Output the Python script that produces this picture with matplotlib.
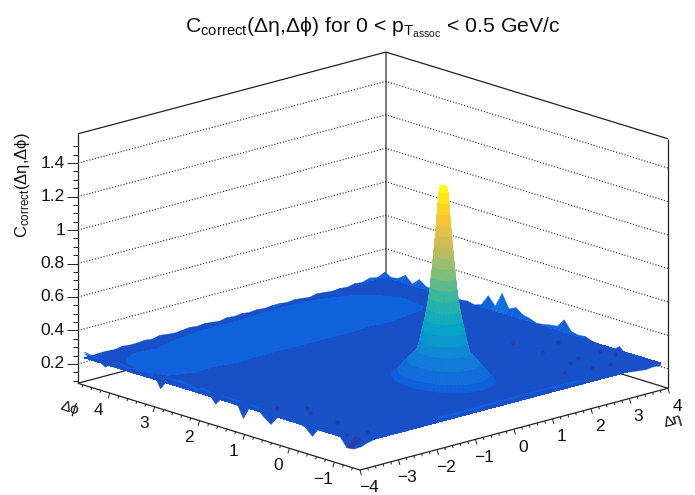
import numpy as np
import matplotlib
matplotlib.use('Agg')
import matplotlib.pyplot as plt
from matplotlib.colors import LinearSegmentedColormap, BoundaryNorm
from mpl_toolkits.mplot3d import proj3d

plt.rcParams['font.family'] = ['Liberation Sans', 'DejaVu Sans']
plt.rcParams['mathtext.fontset'] = 'custom'
plt.rcParams['mathtext.rm'] = 'Liberation Sans'
plt.rcParams['mathtext.default'] = 'regular'

# axis ranges
ETA_MIN, ETA_MAX = -4.0, 4.0
PHI_MIN, PHI_MAX = -1.57, 4.71
Z_MIN, Z_MAX = 0.0845, 1.575

# surface extent (a bit inside the box)
SURF_ETA = (-3.9, 3.9)
SURF_PHI = (-1.5, 4.65)
PLATEAU_Z = 0.235
EDGE_COLOR_SHIFT = 0.02

# palette stops and colour contours
bird_stops = [(0.2082, 0.1664, 0.5293), (0.0592, 0.3599, 0.8684), (0.0780, 0.5041, 0.8385),
              (0.0232, 0.6419, 0.7914), (0.1802, 0.7178, 0.6425), (0.5301, 0.7492, 0.4662),
              (0.8186, 0.7328, 0.3499), (0.9956, 0.7862, 0.1968), (0.9764, 0.9832, 0.0539)]
levels = np.arange(0.0395, 1.45, 0.0635)

# flat part of the surface, rows are phi, columns are eta
plateau_eta = [-3.9, -3.5, -3, -2.5, -2, -1.5, -1, -0.5, 0, 0.5, 1, 1.5, 2, 2.5, 3, 3.5, 3.9]
plateau_phi = [-1.5, -1, -0.5, 0, 0.5, 1, 1.5, 2, 2.6, 3.14, 3.67, 4.19, 4.65]
plateau_z = [
    [.215] * 17,
    [.215] * 17,
    [.215] * 17,
    [.215] * 17,
    [.215] * 17,
    [.215] * 17,
    [.215] * 17,
    [.215, .215, .216, .216, .218, .218, .216, .218, .218, .218, .216, .218, .216, .216, .216, .215, .215],
    [.215, .215, .218, .220, .222, .220, .222, .224, .222, .224, .222, .220, .222, .220, .218, .215, .215],
    [.220, .231, .236, .234, .236, .236, .235, .234, .236, .234, .236, .235, .236, .234, .233, .222, .215],
    [.222, .236, .245, .245, .246, .246, .248, .247, .248, .248, .247, .248, .246, .244, .238, .222, .215],
    [.220, .228, .234, .232, .236, .240, .242, .242, .242, .244, .244, .244, .242, .236, .228, .220, .215],
    [.215, .215, .218, .218, .220, .222, .224, .224, .224, .226, .226, .226, .224, .220, .218, .215, .215],
]

# height along each edge of the surface
front_left_z = [.21, .185, .18, .235, .24, .25, .245, .185, .225, .24, .24, .245, .235, .18, .21, .25, .26,
                .165, .25, .26, .26, .2, .25, .275, .245, .27, .278, .27, .265, .19, .27, .276, .275, .26,
                .25, .27, .25, .218, .25, .26, .27]
front_right_z = [.21, .225, .235, .24, .245, .24, .245, .25, .245, .25, .245, .25, .255, .25, .255, .25, .255,
                 .26, .255, .26, .255, .26, .265, .26, .26, .265, .255, .26, .25, .255, .245, .25, .24, .245,
                 .235, .24, .23, .225, .22, .225, .22]
back_left_z = [.26, .235, .24, .24, .235, .245, .24, .24, .245, .24, .25, .245, .24, .245, .25, .245, .25, .245,
               .24, .25, .245, .25, .245, .25, .245, .25, .25, .245, .25, .245, .24, .25, .245, .24, .245, .24,
               .25, .245, .26, .25, .27]
back_right_z = [.227, .235, .205, .22, .21, .22, .258, .225, .2, .235, .24, .255, .25, .26, .316, .265, .26,
                .25, .245, .26, .27, .30, .28, .36, .27, .32, .255, .24, .25, .245, .25, .26, .25, .255, .26,
                .29, .25, .29, .26, .25, .27]

# near side peak: height and radius of each colour step
peak_z = [1.405, 1.405, 1.373, 1.3095, 1.246, 1.1825, 1.119, 1.0555, .992, .9285, .865, .8015, .738, .6745,
          .611, .5475, .484, .42, .357, .2935, .262, .262]
peak_r = [0.0, .05, .075, .09, .105, .12, .135, .15, .17, .185, .205, .225, .25, .28, .315, .36, .40, .45,
          .62, .78, .86, .88]

# small low spots
speck_eta = [3.41, 2.74, 2.74, 2.63, 2.97, 2.71, 3.14, 2.15, 3.59, 3.67, -3.48, -3.06, -3.25, -3.29, -3.32, -3.73]
speck_phi = [.38, .8, .16, -.56, -.45, -.98, -1.01, -.84, -.4, -.67, .72, .41, .18, -.44, -1.14, -1.05]

z_major = [0.2, 0.4, 0.6, 0.8, 1, 1.2, 1.4]
z_labels = ['0.2', '0.4', '0.6', '0.8', '1', '1.2', '1.4']
phi_major = [-1, 0, 1, 2, 3, 4]
eta_major = [-4, -3, -2, -1, 0, 1, 2, 3, 4]

cmap = LinearSegmentedColormap.from_list('bird', bird_stops, N=256)
norm = BoundaryNorm(levels, 256, clip=True)

fig = plt.figure(figsize=(6.95, 4.95), dpi=100)
ax = fig.add_axes([0, 0, 1, 1], projection='3d', proj_type='ortho', computed_zorder=False)
ax.view_init(elev=16.6, azim=-132.9)
ax.set_xlim(ETA_MIN, ETA_MAX, view_margin=0)
ax.set_ylim(PHI_MIN, PHI_MAX, view_margin=0)
ax.set_zlim(Z_MIN, Z_MAX, view_margin=0)
ax.set_axis_off()

ASPECT = (420, 414, 260)


def to_px(eta, phi, z):
    x, y, _ = proj3d.proj_transform(eta, phi, z, ax.get_proj())
    return ax.transData.transform((x, y))


# fit the box on the pixels of the reference
ax.set_box_aspect(ASPECT, zoom=1)
ax.apply_aspect()
span = to_px(ETA_MAX, PHI_MIN, Z_MIN)[0] - to_px(ETA_MIN, PHI_MIN, Z_MIN)[0]
ax.set_box_aspect(ASPECT, zoom=308 / span)
ax.apply_aspect()
corner = to_px(ETA_MIN, PHI_MIN, Z_MIN)
ax.set_position([(360 - corner[0]) / 695, (25 - corner[1]) / 495, 1, 1])
ax.apply_aspect()


def screen_step(dx, dy):
    # data step in eta, phi that moves dx, dy pixels on the screen
    return np.linalg.solve([[38.5, -44.9], [10.25, 13.85]], [dx, dy])


def line(eta, phi, z, **kw):
    kw.setdefault('color', '#222222')
    kw.setdefault('lw', 0.9)
    kw.setdefault('zorder', 0)
    ax.plot(eta, phi, z, solid_capstyle='butt', **kw)


def patch(eta, phi, z, zorder, color_z=None):
    z = np.asarray(z)
    if color_z is None:
        color_z = (z[:-1, :-1] + z[1:, :-1] + z[:-1, 1:] + z[1:, 1:]) / 4
    colors = cmap(norm(color_z))
    surf = ax.plot_surface(eta, phi, z, facecolors=colors, rstride=1, cstride=1, shade=False,
                           linewidth=0.3, antialiased=True, zorder=zorder)
    surf.set_edgecolor(colors.reshape(-1, 4))


def strip_color(z):
    # colour of a one bin band follows its outer edge
    z = np.asarray(z)
    return ((z[:-1] + z[1:]) / 2 - EDGE_COLOR_SHIFT).reshape(1, -1)


def strip_along_eta(phi, z, step, zorder):
    # one bin wide band between an edge of the surface and the flat part
    eta = np.linspace(SURF_ETA[0], SURF_ETA[1], len(z))
    patch(np.array([eta, eta]), np.array([[phi] * len(z), [phi + step] * len(z)]),
          [z, [PLATEAU_Z] * len(z)], zorder, strip_color(z))


def strip_along_phi(eta, z, step, zorder):
    phi = np.linspace(SURF_PHI[0], SURF_PHI[1], len(z))
    patch(np.array([[eta] * len(z), [eta + step] * len(z)]), np.array([phi, phi]),
          [z, [PLATEAU_Z] * len(z)], zorder, strip_color(z))


# frame and grid
for e, p in [(ETA_MIN, PHI_MAX), (ETA_MAX, PHI_MIN)]:
    line([e, e], [p, p], [Z_MIN, Z_MAX])
line([ETA_MAX, ETA_MAX], [PHI_MAX, PHI_MAX], [Z_MIN, Z_MAX], color='#777777', lw=1.4)
for z, style, lw in [(Z_MIN, '-', 0.9), (Z_MAX, '-', 0.9)] + [(v, ':', 0.8) for v in z_major]:
    line([ETA_MIN, ETA_MAX, ETA_MAX], [PHI_MAX, PHI_MAX, PHI_MIN], [z, z, z], ls=style, lw=lw)

# surface, painted from the back to the front
strip_along_eta(SURF_PHI[1], back_left_z, -0.2, 1)
strip_along_phi(SURF_ETA[1], back_right_z, -0.2, 1)
E, P = np.meshgrid(plateau_eta, plateau_phi)
plateau = ax.contourf(E, P, np.array(plateau_z), levels=levels, cmap=cmap, norm=norm,
                      zdir='z', offset=PLATEAU_Z)
plateau.set_zorder(2)
strip_along_eta(SURF_PHI[0], front_right_z, 0.2, 3)
strip_along_phi(SURF_ETA[0], front_left_z, 0.2, 3)
ax.scatter(speck_eta, speck_phi, [PLATEAU_Z] * len(speck_eta), s=9, c=[cmap(norm(0.12))], linewidths=0,
           depthshade=False, zorder=4)

angle = np.linspace(0, 2 * np.pi, 73)
R, A = np.meshgrid(peak_r, angle)
Z = np.tile(peak_z, (len(angle), 1))
patch(R * np.cos(A), R * np.sin(A), Z, 5)

# axes in front
line([ETA_MIN, ETA_MIN, ETA_MAX], [PHI_MAX, PHI_MIN, PHI_MIN], [Z_MIN, Z_MIN, Z_MIN], zorder=6)


def tick(eta, phi, z, dx, dy):
    step = screen_step(dx, dy)
    line([eta, eta + step[0]], [phi, phi + step[1]], [z, z], lw=0.7, zorder=6)


for v in np.arange(0.1, 1.55, 0.05):
    major = min(abs(v - m) for m in z_major) < 1e-6
    tick(ETA_MIN, PHI_MAX, v, -11 if major else -5, 0)
for v in np.arange(-1.4, 4.7, 0.2):
    major = abs(v - round(v)) < 1e-6
    tick(ETA_MIN, v, Z_MIN, -1.6 if major else -0.8, -5.2 if major else -2.6)
for v in np.arange(-4, 4.01, 0.2):
    major = abs(v - round(v)) < 1e-6
    tick(v, PHI_MIN, Z_MIN, 1.4 if major else 0.7, -5.2 if major else -2.6)


def label(text, eta, phi, z, dx, dy, **kw):
    kw.setdefault('fontsize', 12.5)
    kw.setdefault('ha', 'center')
    x, y, _ = proj3d.proj_transform(eta, phi, z, ax.get_proj())
    ax.annotate(text, (x, y), xytext=(dx, dy), textcoords='offset pixels', va='center',
                annotation_clip=False, color='#111111', zorder=7, **kw)


for v, s in zip(z_major, z_labels):
    label(s, ETA_MIN, PHI_MAX, v, -13, 0, ha='right')
for v in phi_major:
    label(str(v).replace('-', '\u2212'), ETA_MIN, v, Z_MIN, -11, -17)
for v in eta_major:
    label(str(v).replace('-', '\u2212'), v, PHI_MIN, Z_MIN, 9, -18)
label('\u0394\u03d5', ETA_MIN, PHI_MAX, Z_MIN, -8, -25, fontsize=11, rotation=-18)
label('\u0394\u03b7', ETA_MAX, PHI_MIN, Z_MIN, 5, -33, fontsize=11, rotation=15)

# the box is wider than the square axes
for artist in ax.get_children():
    artist.set_clip_on(False)

fig.text(372.5 / 695, 1 - 28 / 495,
         'C$_{correct}$(\u0394\u03b7,\u0394\u03d5) for 0 < p$_{T_{assoc}}$ < 0.5 GeV/c',
         fontsize=15.3, ha='center', va='center', color='#111111')
fig.text(23 / 695, 1 - 185 / 495, 'C$_{correct}$(\u0394\u03b7,\u0394\u03d5)',
         fontsize=12, rotation=90, ha='center', va='center', color='#111111')

fig.savefig('out.png', dpi=100)
